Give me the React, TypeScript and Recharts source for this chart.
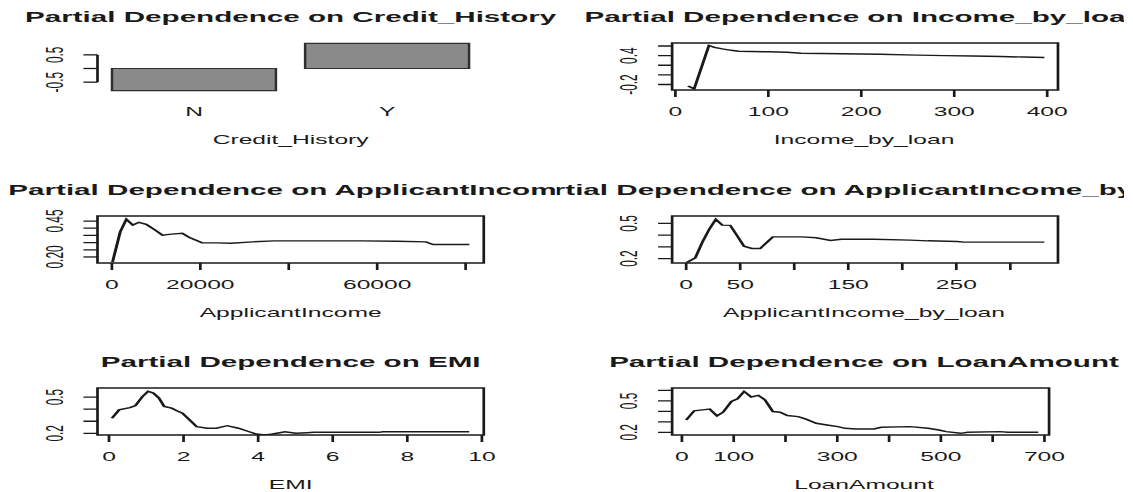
import React from 'react';
import { LineChart, Line, BarChart, Bar, XAxis, YAxis, ReferenceArea, ReferenceLine } from 'recharts';

// ---------------- data ----------------
const creditCategories = ['N', 'Y'];
const creditValues = [-0.81, 0.92];
const creditYTicks = [-0.5, 0, 0.5];
const creditYTickLabels = ['-0.5', '', '0.5'];

const incomeByLoanX = [13.6, 20.2, 36.1, 42, 50.5, 60, 68, 100, 120, 135, 180, 220, 260, 290, 320, 350, 375, 397];
const incomeByLoanY = [-0.23, -0.29, 0.61, 0.57, 0.54, 0.51, 0.49, 0.48, 0.47, 0.45, 0.44, 0.43, 0.41, 0.4, 0.39, 0.38, 0.37, 0.36];
const incomeByLoanXTicks = [0, 100, 200, 300, 400];
const incomeByLoanXTickLabels = ['0', '100', '200', '300', '400'];
const incomeByLoanYTicks = [-0.2, 0, 0.2, 0.4, 0.6];
const incomeByLoanYTickLabels = ['-0.2', '', '', '0.4', ''];

const applicantIncomeX = [150, 1880, 3270, 4740, 6120, 7760, 9800, 11440, 13470, 15920, 17550, 20410, 23680, 26940, 31840, 36740, 56330, 64490, 71030, 72660, 80830];
const applicantIncomeY = [0.165, 0.375, 0.462, 0.422, 0.441, 0.427, 0.387, 0.352, 0.359, 0.364, 0.336, 0.298, 0.298, 0.296, 0.305, 0.312, 0.312, 0.31, 0.305, 0.287, 0.287];
const applicantIncomeXTicks = [0, 20000, 40000, 60000, 80000];
const applicantIncomeXTickLabels = ['0', '20000', '', '60000', ''];
const applicantIncomeYTicks = [0.2, 0.25, 0.3, 0.35, 0.4, 0.45];
const applicantIncomeYTickLabels = ['0.20', '', '', '', '', '0.45'];

const aiByLoanX = [0.5, 8.4, 15.1, 21.8, 27.4, 33.4, 40.8, 46.8, 53.5, 60.8, 68.5, 75.2, 80.2, 107, 120.3, 133.6, 143.7, 173.8, 207.2, 223.8, 250.6, 257.2, 331.5];
const aiByLoanY = [0.166, 0.205, 0.342, 0.457, 0.534, 0.485, 0.483, 0.4, 0.305, 0.286, 0.286, 0.342, 0.385, 0.385, 0.377, 0.354, 0.365, 0.365, 0.357, 0.351, 0.346, 0.34, 0.34];
const aiByLoanXTicks = [0, 50, 100, 150, 200, 250, 300];
const aiByLoanXTickLabels = ['0', '50', '', '150', '', '250', ''];
const aiByLoanYTicks = [0.2, 0.3, 0.4, 0.5];
const aiByLoanYTickLabels = ['0.2', '', '', '0.5'];

const emiX = [0.08, 0.27, 0.56, 0.71, 0.9, 1.05, 1.19, 1.34, 1.48, 1.68, 1.82, 1.97, 2.16, 2.35, 2.64, 2.88, 3.17, 3.47, 3.76, 3.95, 4.19, 4.39, 4.72, 5.01, 5.31, 5.5, 7.24, 7.34, 9.66];
const emiY = [0.325, 0.394, 0.413, 0.43, 0.505, 0.547, 0.533, 0.492, 0.422, 0.408, 0.386, 0.367, 0.311, 0.255, 0.242, 0.242, 0.263, 0.242, 0.213, 0.194, 0.186, 0.194, 0.213, 0.2, 0.205, 0.208, 0.208, 0.213, 0.213];
const emiXTicks = [0, 2, 4, 6, 8, 10];
const emiXTickLabels = ['0', '2', '4', '6', '8', '10'];
const emiYTicks = [0.2, 0.3, 0.4, 0.5];
const emiYTickLabels = ['0.2', '', '', '0.5'];

const loanAmountX = [8.3, 23.7, 39.8, 53.7, 67.6, 79.5, 95.6, 107.4, 120, 133.8, 147.7, 160.2, 175.6, 189.6, 203.5, 224.3, 238.4, 259.3, 280.1, 301.2, 315, 335.9, 370.8, 384.7, 440.5, 475.3, 496.1, 510.2, 538, 551.9, 614.7, 628.6, 688];
const loanAmountY = [0.318, 0.405, 0.414, 0.421, 0.357, 0.392, 0.494, 0.52, 0.59, 0.537, 0.552, 0.51, 0.398, 0.392, 0.36, 0.35, 0.328, 0.286, 0.27, 0.254, 0.238, 0.232, 0.232, 0.248, 0.254, 0.238, 0.222, 0.206, 0.19, 0.2, 0.206, 0.2, 0.2];
const loanAmountXTicks = [0, 100, 200, 300, 400, 500, 600, 700];
const loanAmountXTickLabels = ['0', '100', '', '300', '', '500', '', '700'];
const loanAmountYTicks = [0.2, 0.3, 0.4, 0.5, 0.6];
const loanAmountYTickLabels = ['0.2', '', '', '0.5', ''];

// ---------------- layout / style ----------------
const S = 2.07; // horizontal stretch of the original picture
const FONT = '"Liberation Sans", Arial, Helvetica, sans-serif';
const INK = '#1a1a1a';
const COLS = [
  { left: 0, width: 268.5, plotLeft: 47.1, plotRight: 233.7 },
  { left: 268.5, width: 274, plotLeft: 55.7, plotRight: 242.1 },
];
const ROW_TOPS = [0, 173, 345.3];
const PANEL_H = 147;
const PLOT_TOP = 43;
const PLOT_BOTTOM = 90;
const TICK_LABEL_Y = 112;
const AXIS_TITLE_Y = 140;
const TITLE_Y = 17;
const X_TICK = 7;
const Y_TICK = 6.8;
const Y_LABEL_OFFSET = 21;
const AXIS_FONT = 11.9;
const TITLE_FONT = 14.3;

const near = (a: any, b: any) =>
  typeof a === 'number' && typeof b === 'number' ? Math.abs(a - b) < 1e-9 : a === b;

const makeXTick = (ticks: any[], labels: string[], offset: number) => (props: any) => {
  const { x, y, payload } = props;
  const i = ticks.findIndex((t) => near(t, payload.value));
  const label = i >= 0 ? labels[i] : '';
  if (!label) return <g />;
  return (
    <text x={x} y={y + offset} textAnchor="middle" dominantBaseline="central" fontSize={AXIS_FONT} fontFamily={FONT} fill={INK}>
      {label}
    </text>
  );
};

const makeYTick = (ticks: number[], labels: string[]) => (props: any) => {
  const { x, y, payload } = props;
  const i = ticks.findIndex((t) => near(t, payload.value));
  const label = i >= 0 ? labels[i] : '';
  if (!label) return <g />;
  const cx = x + Y_TICK - Y_LABEL_OFFSET;
  return (
    <text x={cx} y={y} dy="0.35em" transform={`rotate(-90 ${cx} ${y})`} textAnchor="middle" fontSize={AXIS_FONT} fontFamily={FONT} fill={INK}>
      {label}
    </text>
  );
};

function PanelFrame({ col, row, title, xLabel, center, children }: any) {
  const c = COLS[col];
  return (
    <div style={{ position: 'absolute', left: c.left, top: ROW_TOPS[row], width: c.width, height: PANEL_H, overflow: 'hidden' }}>
      <div style={{ position: 'absolute', left: center - 400, width: 800, top: TITLE_Y - 10, height: 20, lineHeight: '20px', textAlign: 'center', whiteSpace: 'nowrap', fontFamily: FONT, fontWeight: 'bold', fontSize: TITLE_FONT, color: INK }}>
        {title}
      </div>
      {children}
      <div style={{ position: 'absolute', left: center - 200, width: 400, top: AXIS_TITLE_Y - 9, height: 18, lineHeight: '18px', textAlign: 'center', whiteSpace: 'nowrap', fontFamily: FONT, fontSize: AXIS_FONT, color: INK }}>
        {xLabel}
      </div>
    </div>
  );
}

function LinePanel(p: any) {
  const c = COLS[p.col];
  const plotRight = p.plotRight ?? c.plotRight;
  const data = p.xs.map((x: number, i: number) => ({ x, y: p.ys[i] }));
  const center = (c.plotLeft + c.plotRight) / 2;
  return (
    <PanelFrame col={p.col} row={p.row} title={p.title} xLabel={p.xLabel} center={center}>
      <div style={{ position: 'absolute', left: 0, top: 0 }}>
        <LineChart width={c.width} height={PANEL_H} data={data} margin={{ top: PLOT_TOP, right: c.width - plotRight, bottom: 0, left: 0 }}>
          <XAxis dataKey="x" type="number" domain={p.xDomain} allowDataOverflow ticks={p.xTicks} interval={0}
            height={PANEL_H - PLOT_BOTTOM} axisLine={false} tickLine={{ stroke: INK, strokeWidth: 1.3 }}
            tickSize={X_TICK} tickMargin={0} tick={makeXTick(p.xTicks, p.xTickLabels, TICK_LABEL_Y - PLOT_BOTTOM - X_TICK)} />
          <YAxis type="number" domain={p.yDomain} allowDataOverflow ticks={p.yTicks} interval={0}
            width={c.plotLeft} axisLine={false} tickLine={{ stroke: INK, strokeWidth: 1.3 }}
            tickSize={Y_TICK} tickMargin={0} tick={makeYTick(p.yTicks, p.yTickLabels)} />
          <ReferenceArea x1={p.xDomain[0]} x2={p.xDomain[1]} y1={p.yDomain[0]} y2={p.yDomain[1]}
            fill="none" fillOpacity={0} stroke={INK} strokeWidth={1.3} ifOverflow="visible" />
          <Line dataKey="y" type="linear" stroke={INK} strokeWidth={1.45} dot={false} isAnimationActive={false} />
        </LineChart>
      </div>
    </PanelFrame>
  );
}

function BarPanel() {
  const c = COLS[0];
  const top = 41.5;
  const bottom = 92.5;
  const data = creditCategories.map((cat, i) => ({ cat, value: creditValues[i] }));
  const center = (c.plotLeft + c.plotRight) / 2;
  return (
    <PanelFrame col={0} row={0} title="Partial Dependence on Credit_History" xLabel="Credit_History" center={center}>
      <div style={{ position: 'absolute', left: 0, top: 0 }}>
        <BarChart width={c.width} height={PANEL_H} data={data} margin={{ top, right: c.width - c.plotRight, bottom: 0, left: 0 }}>
          <XAxis dataKey="cat" type="category" interval={0} height={PANEL_H - bottom} axisLine={false} tickLine={false}
            tickSize={0} tickMargin={0} tick={makeXTick(creditCategories, creditCategories, TICK_LABEL_Y - bottom)} />
          <XAxis xAxisId="edge" type="number" domain={[0, 1]} hide />
          <YAxis type="number" domain={[-0.879, 0.989]} allowDataOverflow ticks={creditYTicks} interval={0}
            width={c.plotLeft} axisLine={false} tickLine={{ stroke: INK, strokeWidth: 1.3 }}
            tickSize={Y_TICK} tickMargin={0} tick={makeYTick(creditYTicks, creditYTickLabels)} />
          <ReferenceLine xAxisId="edge" segment={[{ x: 0, y: -0.5 }, { x: 0, y: 0.5 }]} stroke={INK} strokeWidth={1.3} ifOverflow="visible" />
          <Bar dataKey="value" fill="#8a8a8a" stroke="#2e2e2e" strokeWidth={1.2} barSize={79.2} isAnimationActive={false} />
        </BarChart>
      </div>
    </PanelFrame>
  );
}

export default function App() {
  return (
    <div style={{ position: 'absolute', left: 0, top: 0, width: 1133, height: 492, overflow: 'hidden', background: '#fff' }}>
      <div style={{ position: 'absolute', left: 0, top: 0, width: 1133 / S, height: 492, transform: `scaleX(${S})`, transformOrigin: '0 0' }}>
        <BarPanel />
        <LinePanel col={1} row={0} title="Partial Dependence on Income_by_loan" xLabel="Income_by_loan"
          xs={incomeByLoanX} ys={incomeByLoanY} xDomain={[-3.5, 411.6]} yDomain={[-0.314, 0.662]}
          xTicks={incomeByLoanXTicks} xTickLabels={incomeByLoanXTickLabels} yTicks={incomeByLoanYTicks} yTickLabels={incomeByLoanYTickLabels} />
        <LinePanel col={0} row={1} title="Partial Dependence on ApplicantIncome" xLabel="ApplicantIncome"
          xs={applicantIncomeX} ys={applicantIncomeY} xDomain={[-3256, 84102]} yDomain={[0.158, 0.485]}
          xTicks={applicantIncomeXTicks} xTickLabels={applicantIncomeXTickLabels} yTicks={applicantIncomeYTicks} yTickLabels={applicantIncomeYTickLabels} />
        <LinePanel col={1} row={1} title="Partial Dependence on ApplicantIncome_by_loan" xLabel="ApplicantIncome_by_loan"
          xs={aiByLoanX} ys={aiByLoanY} xDomain={[-13.0, 344.1]} yDomain={[0.162, 0.563]}
          xTicks={aiByLoanXTicks} xTickLabels={aiByLoanXTickLabels} yTicks={aiByLoanYTicks} yTickLabels={aiByLoanYTickLabels} />
        <LinePanel col={0} row={2} title="Partial Dependence on EMI" xLabel="EMI"
          xs={emiX} ys={emiY} xDomain={[-0.308, 10.05]} yDomain={[0.186, 0.575]}
          xTicks={emiXTicks} xTickLabels={emiXTickLabels} yTicks={emiYTicks} yTickLabels={emiYTickLabels} />
        <LinePanel col={1} row={2} title="Partial Dependence on LoanAmount" xLabel="LoanAmount" plotRight={237.8}
          xs={loanAmountX} ys={loanAmountY} xDomain={[-18.9, 708.9]} yDomain={[0.174, 0.623]}
          xTicks={loanAmountXTicks} xTickLabels={loanAmountXTickLabels} yTicks={loanAmountYTicks} yTickLabels={loanAmountYTickLabels} />
      </div>
    </div>
  );
}
